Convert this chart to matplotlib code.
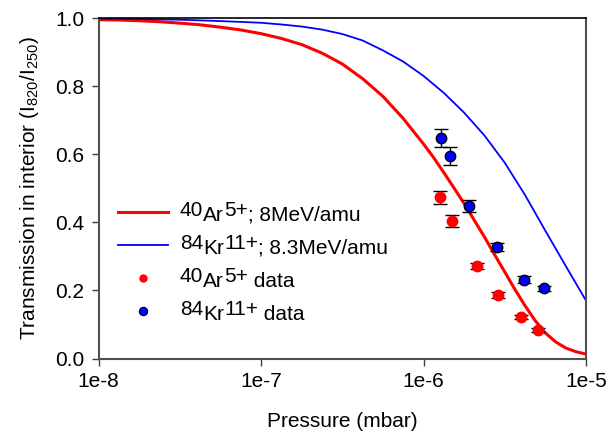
import numpy as np
import matplotlib
matplotlib.use("Agg")
import matplotlib.pyplot as plt
from matplotlib.lines import Line2D

plt.rcParams['font.family'] = ['Liberation Sans', 'DejaVu Sans']
plt.rcParams['mathtext.fontset'] = 'custom'
plt.rcParams['mathtext.rm'] = 'Liberation Sans'
plt.rcParams['mathtext.it'] = 'Liberation Sans'
plt.rcParams['mathtext.bf'] = 'Liberation Sans:bold'

# model curves (log10 of pressure -> transmission)
ar_curve_logp = [-8.0, -7.875, -7.75, -7.625, -7.5, -7.375, -7.25, -7.125, -7.0,
                 -6.875, -6.75, -6.625, -6.5, -6.375, -6.25, -6.125, -6.0, -5.9375,
                 -5.875, -5.8125, -5.75, -5.6875, -5.625, -5.5625, -5.5, -5.4375,
                 -5.375, -5.3125, -5.25, -5.1875, -5.125, -5.0625, -5.0]
ar_curve_t = [0.995, 0.994, 0.992, 0.989, 0.985, 0.980, 0.973, 0.965, 0.954,
              0.940, 0.922, 0.897, 0.865, 0.822, 0.770, 0.705, 0.630, 0.590,
              0.546, 0.501, 0.455, 0.406, 0.357, 0.305, 0.254, 0.203,
              0.155, 0.111, 0.075, 0.049, 0.031, 0.020, 0.013]

kr_curve_logp = [-8.0, -7.75, -7.5, -7.25, -7.0, -6.875, -6.75, -6.625, -6.5,
                 -6.375, -6.25, -6.125, -6.0, -5.875, -5.75, -5.625, -5.5,
                 -5.375, -5.25, -5.125, -5.0]
kr_curve_t = [0.998, 0.997, 0.995, 0.991, 0.986, 0.981, 0.975, 0.966, 0.953,
              0.934, 0.905, 0.872, 0.830, 0.780, 0.722, 0.655, 0.575,
              0.480, 0.375, 0.272, 0.170]

# measured points
ar_p = [1.26e-6, 1.50e-6, 2.14e-6, 2.89e-6, 3.96e-6, 5.08e-6]
ar_t = [0.473, 0.404, 0.272, 0.187, 0.121, 0.084]
ar_err = [0.019, 0.018, 0.009, 0.008, 0.006, 0.005]

kr_p = [1.28e-6, 1.46e-6, 1.90e-6, 2.85e-6, 4.18e-6, 5.51e-6]
kr_t = [0.647, 0.595, 0.448, 0.328, 0.232, 0.206]
kr_err = [0.027, 0.026, 0.018, 0.012, 0.009, 0.008]

# legend labels: (text, raised)
labels = [
    [('40', True), ('Ar', False), ('5+', True), ('; 8MeV/amu', False)],
    [('84', True), ('Kr', False), ('11+', True), ('; 8.3MeV/amu', False)],
    [('40', True), ('Ar', False), ('5+', True), (' data', False)],
    [('84', True), ('Kr', False), ('11+', True), (' data', False)],
]

W, H = 616, 434
fig = plt.figure(figsize=(W / 100, H / 100), dpi=100)
ax = fig.add_axes([98.5 / W, 1 - 358.5 / H, (586 - 98.5) / W, (358.5 - 18) / H])

red = '#ff0000'
blue = '#0000ff'

ax.plot(10 ** np.array(ar_curve_logp), ar_curve_t, color=red, lw=2.2)
ax.plot(10 ** np.array(kr_curve_logp), kr_curve_t, color=blue, lw=1.3)

ax.errorbar(ar_p, ar_t, yerr=ar_err, fmt='o', color=red, mec=red, ms=7.5,
            ecolor='black', elinewidth=1, capsize=5, capthick=1)
ax.errorbar(kr_p, kr_t, yerr=kr_err, fmt='o', color=blue, mec='black', mew=1, ms=7.5,
            ecolor='black', elinewidth=1, capsize=5, capthick=1)

ax.set_xscale('log')
ax.set_xlim(1e-8, 1e-5)
ax.set_ylim(0, 1.0)
ax.set_xticks([1e-8, 1e-7, 1e-6, 1e-5])
ax.set_xticklabels(['1e-8', '1e-7', '1e-6', '1e-5'])
ax.minorticks_off()
ax.set_yticks([0.0, 0.2, 0.4, 0.6, 0.8, 1.0])
ax.set_yticklabels(['0.0', '0.2', '0.4', '0.6', '0.8', '1.0'])
ax.tick_params(direction='out', length=5, width=1, labelsize=15, color='#404040', pad=5)
ax.tick_params(top=False, right=False)
for s in ax.spines.values():
    s.set_color('#505050')
    s.set_linewidth(1.5)
ax.spines['top'].set_color('black')
ax.spines['top'].set_linewidth(1.2)

ax.set_xlabel('Pressure (mbar)', fontsize=15, labelpad=15)
ax.set_ylabel(r'Transmission in interior (I$_{820}$/I$_{250}$)', fontsize=15, labelpad=10)

# legend drawn by hand so the ion labels can carry full-size raised numbers
row_y = [212, 245, 278, 311]
fig.add_artist(Line2D([118 / W, 168 / W], [1 - row_y[0] / H] * 2, color=red, lw=2.2))
fig.add_artist(Line2D([118 / W, 168 / W], [1 - row_y[1] / H] * 2, color=blue, lw=1.3))
fig.add_artist(Line2D([143 / W], [1 - row_y[2] / H], marker='o', ms=5, color=red, lw=0))
fig.add_artist(Line2D([143 / W], [1 - row_y[3] / H], marker='o', ms=6, color=blue,
                      mec='black', mew=0.8, lw=0))

rise = 3.8  # points
for yy, parts in zip(row_y, labels):
    prev = None
    prev_up = False
    for text, up in parts:
        if prev is None:
            prev = fig.text(180 / W, 1 - (yy + 9) / H, text, fontsize=15, va='baseline',
                            ha='left', transform=fig.transFigure)
            prev.set_y(prev.get_position()[1] + (rise / 72 * 100 / H if up else 0))
        else:
            dy = (rise if up else 0) - (rise if prev_up else 0)
            prev = ax.annotate(text, xy=(1, 0), xycoords=prev, xytext=(0, dy),
                               textcoords='offset points', fontsize=15,
                               va='bottom', ha='left')
        prev_up = up

fig.savefig('out.png', dpi=100)
